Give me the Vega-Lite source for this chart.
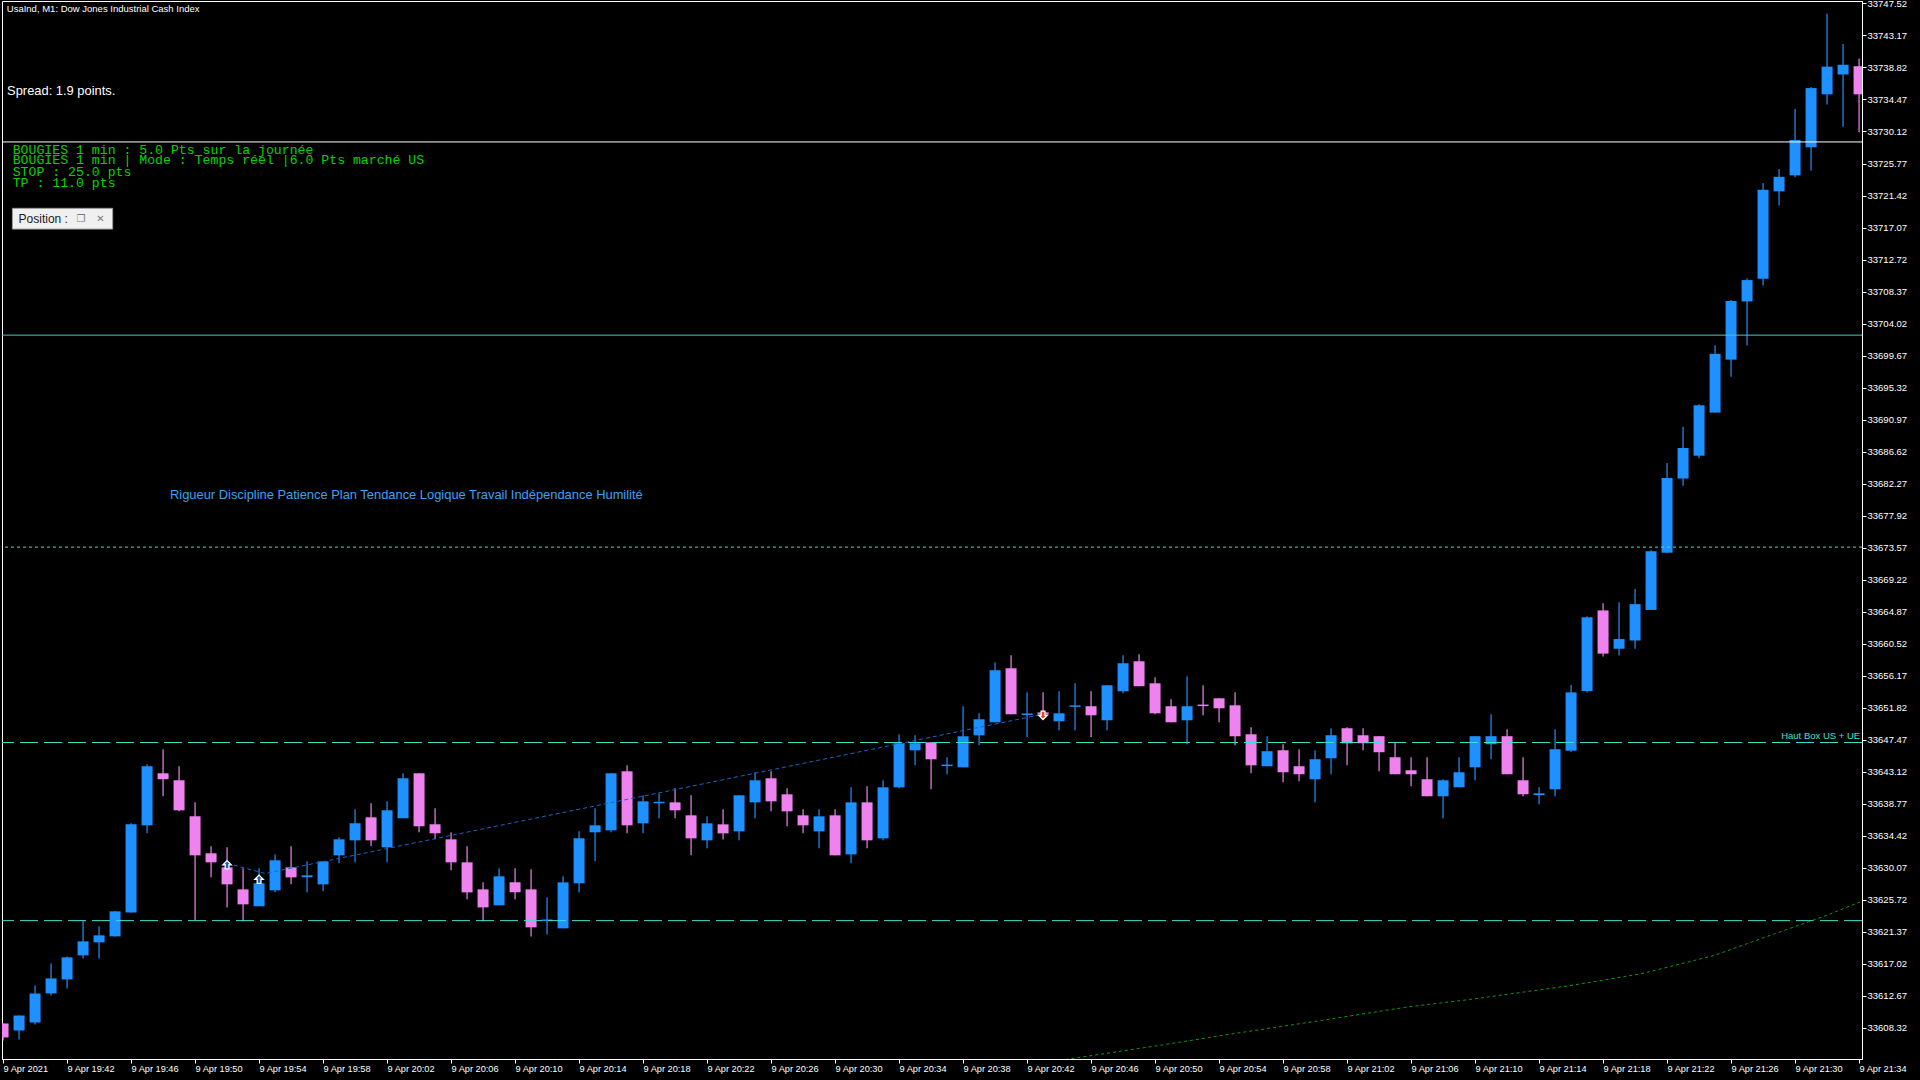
{
  "$schema": "https://vega.github.io/schema/vega-lite/v6.json",
  "description": "UsaInd M1 - Dow Jones Industrial Cash Index, 9 Apr 2021 19:38-21:34",
  "width": 1860,
  "height": 1058,
  "autosize": "none",
  "padding": {"left": 2, "top": 1, "right": 58, "bottom": 21},
  "background": "#000000",
  "datasets": {
    "candles": [
      {"t": "2021-04-09T19:38", "o": 33608.93, "h": 33608.93, "l": 33606.6, "c": 33607.03},
      {"t": "2021-04-09T19:39", "o": 33607.98, "h": 33610.02, "l": 33606.76, "c": 33610.02},
      {"t": "2021-04-09T19:40", "o": 33609.07, "h": 33614.1, "l": 33608.8, "c": 33613.01},
      {"t": "2021-04-09T19:41", "o": 33613.01, "h": 33617.09, "l": 33612.74, "c": 33615.05},
      {"t": "2021-04-09T19:42", "o": 33614.91, "h": 33618.04, "l": 33613.69, "c": 33617.91},
      {"t": "2021-04-09T19:43", "o": 33618.18, "h": 33622.94, "l": 33617.77, "c": 33620.08},
      {"t": "2021-04-09T19:44", "o": 33619.95, "h": 33622.12, "l": 33617.77, "c": 33620.9},
      {"t": "2021-04-09T19:45", "o": 33620.76, "h": 33624.16, "l": 33620.76, "c": 33624.16},
      {"t": "2021-04-09T19:46", "o": 33624.02, "h": 33636.13, "l": 33624.02, "c": 33635.99},
      {"t": "2021-04-09T19:47", "o": 33635.85, "h": 33644.15, "l": 33634.77, "c": 33643.88},
      {"t": "2021-04-09T19:48", "o": 33642.92, "h": 33646.19, "l": 33639.8, "c": 33642.11},
      {"t": "2021-04-09T19:49", "o": 33641.97, "h": 33643.88, "l": 33637.76, "c": 33637.89},
      {"t": "2021-04-09T19:50", "o": 33637.08, "h": 33638.98, "l": 33622.94, "c": 33631.77},
      {"t": "2021-04-09T19:51", "o": 33632.05, "h": 33633.0, "l": 33628.78, "c": 33630.82},
      {"t": "2021-04-09T19:52", "o": 33630.14, "h": 33632.86, "l": 33624.7, "c": 33627.83},
      {"t": "2021-04-09T19:53", "o": 33627.15, "h": 33630.01, "l": 33622.8, "c": 33625.11},
      {"t": "2021-04-09T19:54", "o": 33624.84, "h": 33630.01, "l": 33624.84, "c": 33627.97},
      {"t": "2021-04-09T19:55", "o": 33627.02, "h": 33631.91, "l": 33626.74, "c": 33631.1},
      {"t": "2021-04-09T19:56", "o": 33630.14, "h": 33633.0, "l": 33627.83, "c": 33628.78},
      {"t": "2021-04-09T19:57", "o": 33628.8, "h": 33630.96, "l": 33626.74, "c": 33629.05},
      {"t": "2021-04-09T19:58", "o": 33627.83, "h": 33630.96, "l": 33626.88, "c": 33630.96},
      {"t": "2021-04-09T19:59", "o": 33631.77, "h": 33634.22, "l": 33630.69, "c": 33633.95},
      {"t": "2021-04-09T20:00", "o": 33633.81, "h": 33638.03, "l": 33630.82, "c": 33636.13},
      {"t": "2021-04-09T20:01", "o": 33636.94, "h": 33638.84, "l": 33633.0, "c": 33633.81},
      {"t": "2021-04-09T20:02", "o": 33632.86, "h": 33639.12, "l": 33630.82, "c": 33637.89},
      {"t": "2021-04-09T20:03", "o": 33636.81, "h": 33642.92, "l": 33636.81, "c": 33642.24},
      {"t": "2021-04-09T20:04", "o": 33642.92, "h": 33642.92, "l": 33634.9, "c": 33635.72},
      {"t": "2021-04-09T20:05", "o": 33635.99, "h": 33638.16, "l": 33633.95, "c": 33634.77},
      {"t": "2021-04-09T20:06", "o": 33633.95, "h": 33634.9, "l": 33629.74, "c": 33630.82},
      {"t": "2021-04-09T20:07", "o": 33630.82, "h": 33633.0, "l": 33625.79, "c": 33626.74},
      {"t": "2021-04-09T20:08", "o": 33627.15, "h": 33628.1, "l": 33622.8, "c": 33624.7},
      {"t": "2021-04-09T20:09", "o": 33624.98, "h": 33630.01, "l": 33624.98, "c": 33628.92},
      {"t": "2021-04-09T20:10", "o": 33628.1, "h": 33630.01, "l": 33625.79, "c": 33626.74},
      {"t": "2021-04-09T20:11", "o": 33627.15, "h": 33629.87, "l": 33620.76, "c": 33621.99},
      {"t": "2021-04-09T20:12", "o": 33622.85, "h": 33626.06, "l": 33621.03, "c": 33623.05},
      {"t": "2021-04-09T20:13", "o": 33621.85, "h": 33628.92, "l": 33621.85, "c": 33628.1},
      {"t": "2021-04-09T20:14", "o": 33627.97, "h": 33635.04, "l": 33626.74, "c": 33634.09},
      {"t": "2021-04-09T20:15", "o": 33634.9, "h": 33638.16, "l": 33630.96, "c": 33635.85},
      {"t": "2021-04-09T20:16", "o": 33635.17, "h": 33642.92, "l": 33634.9, "c": 33642.92},
      {"t": "2021-04-09T20:17", "o": 33643.19, "h": 33644.0, "l": 33634.76, "c": 33635.85},
      {"t": "2021-04-09T20:18", "o": 33636.12, "h": 33639.93, "l": 33634.76, "c": 33639.11},
      {"t": "2021-04-09T20:19", "o": 33638.85, "h": 33640.2, "l": 33636.8, "c": 33639.05},
      {"t": "2021-04-09T20:20", "o": 33638.97, "h": 33640.88, "l": 33636.8, "c": 33637.89},
      {"t": "2021-04-09T20:21", "o": 33637.21, "h": 33639.93, "l": 33631.77, "c": 33634.08},
      {"t": "2021-04-09T20:22", "o": 33633.81, "h": 33637.07, "l": 33632.72, "c": 33636.12},
      {"t": "2021-04-09T20:23", "o": 33635.98, "h": 33638.02, "l": 33633.94, "c": 33634.76},
      {"t": "2021-04-09T20:24", "o": 33635.03, "h": 33639.93, "l": 33633.81, "c": 33639.93},
      {"t": "2021-04-09T20:25", "o": 33638.97, "h": 33643.05, "l": 33636.8, "c": 33641.97},
      {"t": "2021-04-09T20:26", "o": 33642.24, "h": 33643.19, "l": 33637.75, "c": 33639.11},
      {"t": "2021-04-09T20:27", "o": 33640.06, "h": 33640.88, "l": 33635.71, "c": 33637.75},
      {"t": "2021-04-09T20:28", "o": 33637.21, "h": 33638.02, "l": 33634.76, "c": 33635.85},
      {"t": "2021-04-09T20:29", "o": 33635.03, "h": 33638.02, "l": 33632.72, "c": 33637.07},
      {"t": "2021-04-09T20:30", "o": 33637.21, "h": 33638.02, "l": 33631.77, "c": 33631.77},
      {"t": "2021-04-09T20:31", "o": 33631.9, "h": 33641.01, "l": 33630.68, "c": 33638.97},
      {"t": "2021-04-09T20:32", "o": 33638.97, "h": 33641.15, "l": 33632.72, "c": 33633.81},
      {"t": "2021-04-09T20:33", "o": 33634.08, "h": 33641.97, "l": 33633.81, "c": 33641.01},
      {"t": "2021-04-09T20:34", "o": 33641.01, "h": 33648.22, "l": 33640.88, "c": 33647.0},
      {"t": "2021-04-09T20:35", "o": 33646.04, "h": 33648.08, "l": 33644.0, "c": 33647.0},
      {"t": "2021-04-09T20:36", "o": 33647.13, "h": 33647.13, "l": 33640.74, "c": 33644.82},
      {"t": "2021-04-09T20:37", "o": 33643.9, "h": 33645.09, "l": 33642.78, "c": 33644.1},
      {"t": "2021-04-09T20:38", "o": 33643.73, "h": 33652.03, "l": 33643.73, "c": 33647.95},
      {"t": "2021-04-09T20:39", "o": 33648.08, "h": 33651.07, "l": 33646.72, "c": 33650.26},
      {"t": "2021-04-09T20:40", "o": 33649.85, "h": 33658.01, "l": 33649.85, "c": 33656.92},
      {"t": "2021-04-09T20:41", "o": 33657.19, "h": 33658.96, "l": 33650.94, "c": 33650.94},
      {"t": "2021-04-09T20:42", "o": 33650.85, "h": 33653.93, "l": 33647.81, "c": 33651.05},
      {"t": "2021-04-09T20:43", "o": 33651.2, "h": 33653.93, "l": 33650.2, "c": 33650.9},
      {"t": "2021-04-09T20:44", "o": 33649.99, "h": 33654.07, "l": 33648.76, "c": 33651.07},
      {"t": "2021-04-09T20:45", "o": 33651.95, "h": 33655.15, "l": 33648.76, "c": 33652.15},
      {"t": "2021-04-09T20:46", "o": 33652.03, "h": 33654.07, "l": 33647.81, "c": 33650.8},
      {"t": "2021-04-09T20:47", "o": 33650.12, "h": 33654.88, "l": 33648.76, "c": 33654.88},
      {"t": "2021-04-09T20:48", "o": 33654.07, "h": 33658.96, "l": 33653.79, "c": 33657.87},
      {"t": "2021-04-09T20:49", "o": 33658.14, "h": 33659.1, "l": 33654.75, "c": 33654.75},
      {"t": "2021-04-09T20:50", "o": 33655.15, "h": 33655.97, "l": 33650.94, "c": 33651.07},
      {"t": "2021-04-09T20:51", "o": 33652.03, "h": 33652.98, "l": 33649.85, "c": 33649.85},
      {"t": "2021-04-09T20:52", "o": 33650.12, "h": 33656.11, "l": 33646.86, "c": 33652.03},
      {"t": "2021-04-09T20:53", "o": 33652.25, "h": 33654.88, "l": 33650.8, "c": 33652.05},
      {"t": "2021-04-09T20:54", "o": 33653.11, "h": 33653.11, "l": 33649.85, "c": 33651.75},
      {"t": "2021-04-09T20:55", "o": 33652.16, "h": 33653.93, "l": 33646.72, "c": 33647.95},
      {"t": "2021-04-09T20:56", "o": 33648.22, "h": 33649.17, "l": 33642.92, "c": 33644.0},
      {"t": "2021-04-09T20:57", "o": 33643.88, "h": 33647.96, "l": 33643.88, "c": 33645.92},
      {"t": "2021-04-09T20:58", "o": 33646.05, "h": 33646.87, "l": 33641.7, "c": 33643.06},
      {"t": "2021-04-09T20:59", "o": 33643.88, "h": 33646.19, "l": 33641.84, "c": 33642.79},
      {"t": "2021-04-09T21:00", "o": 33642.11, "h": 33646.05, "l": 33638.98, "c": 33644.83},
      {"t": "2021-04-09T21:01", "o": 33644.96, "h": 33649.04, "l": 33642.79, "c": 33648.09},
      {"t": "2021-04-09T21:02", "o": 33649.04, "h": 33649.18, "l": 33644.01, "c": 33647.0},
      {"t": "2021-04-09T21:03", "o": 33648.09, "h": 33649.04, "l": 33646.05, "c": 33647.0},
      {"t": "2021-04-09T21:04", "o": 33647.96, "h": 33647.96, "l": 33643.2, "c": 33645.78},
      {"t": "2021-04-09T21:05", "o": 33645.1, "h": 33647.14, "l": 33642.79, "c": 33642.79},
      {"t": "2021-04-09T21:06", "o": 33643.33, "h": 33645.1, "l": 33641.16, "c": 33642.79},
      {"t": "2021-04-09T21:07", "o": 33642.11, "h": 33645.1, "l": 33639.8, "c": 33639.8},
      {"t": "2021-04-09T21:08", "o": 33639.8, "h": 33642.11, "l": 33636.81, "c": 33641.97},
      {"t": "2021-04-09T21:09", "o": 33641.02, "h": 33645.1, "l": 33641.02, "c": 33643.06},
      {"t": "2021-04-09T21:10", "o": 33643.74, "h": 33647.96, "l": 33641.97, "c": 33647.96},
      {"t": "2021-04-09T21:11", "o": 33646.87, "h": 33650.95, "l": 33644.83, "c": 33647.96},
      {"t": "2021-04-09T21:12", "o": 33647.96, "h": 33648.91, "l": 33642.79, "c": 33642.79},
      {"t": "2021-04-09T21:13", "o": 33641.97, "h": 33645.1, "l": 33639.8, "c": 33640.07},
      {"t": "2021-04-09T21:14", "o": 33639.95, "h": 33641.02, "l": 33638.71, "c": 33640.2},
      {"t": "2021-04-09T21:15", "o": 33640.75, "h": 33648.91, "l": 33639.8, "c": 33646.19},
      {"t": "2021-04-09T21:16", "o": 33645.99, "h": 33654.9, "l": 33645.8, "c": 33653.91},
      {"t": "2021-04-09T21:17", "o": 33654.1, "h": 33664.25, "l": 33653.91, "c": 33664.12},
      {"t": "2021-04-09T21:18", "o": 33665.05, "h": 33666.03, "l": 33658.78, "c": 33659.18},
      {"t": "2021-04-09T21:19", "o": 33659.84, "h": 33666.17, "l": 33658.91, "c": 33661.16},
      {"t": "2021-04-09T21:20", "o": 33660.96, "h": 33667.95, "l": 33659.84, "c": 33665.9},
      {"t": "2021-04-09T21:21", "o": 33665.11, "h": 33673.22, "l": 33665.11, "c": 33673.09},
      {"t": "2021-04-09T21:22", "o": 33672.89, "h": 33685.08, "l": 33672.89, "c": 33683.04},
      {"t": "2021-04-09T21:23", "o": 33682.97, "h": 33690.02, "l": 33681.98, "c": 33687.12},
      {"t": "2021-04-09T21:24", "o": 33686.07, "h": 33693.05, "l": 33685.74, "c": 33692.92},
      {"t": "2021-04-09T21:25", "o": 33691.93, "h": 33701.09, "l": 33691.93, "c": 33699.91},
      {"t": "2021-04-09T21:26", "o": 33699.12, "h": 33707.22, "l": 33696.81, "c": 33707.09},
      {"t": "2021-04-09T21:27", "o": 33707.03, "h": 33710.19, "l": 33701.03, "c": 33709.93},
      {"t": "2021-04-09T21:28", "o": 33710.12, "h": 33723.11, "l": 33709.2, "c": 33722.19},
      {"t": "2021-04-09T21:29", "o": 33721.99, "h": 33725.02, "l": 33720.08, "c": 33723.96},
      {"t": "2021-04-09T21:30", "o": 33724.16, "h": 33733.19, "l": 33723.9, "c": 33728.97},
      {"t": "2021-04-09T21:31", "o": 33727.98, "h": 33736.16, "l": 33724.82, "c": 33736.02},
      {"t": "2021-04-09T21:32", "o": 33735.17, "h": 33746.11, "l": 33733.78, "c": 33738.93},
      {"t": "2021-04-09T21:33", "o": 33737.87, "h": 33742.02, "l": 33730.75, "c": 33739.19},
      {"t": "2021-04-09T21:34", "o": 33738.99, "h": 33740.05, "l": 33730.03, "c": 33735.17}
    ],
    "ma": [
      {"t": "2021-04-09T20:44:24", "p": 33604.03},
      {"t": "2021-04-09T20:50:31", "p": 33606.03},
      {"t": "2021-04-09T20:54:21", "p": 33607.36},
      {"t": "2021-04-09T21:00:28", "p": 33609.36},
      {"t": "2021-04-09T21:05:50", "p": 33611.19},
      {"t": "2021-04-09T21:09:39", "p": 33612.18},
      {"t": "2021-04-09T21:15:47", "p": 33614.02},
      {"t": "2021-04-09T21:20:22", "p": 33615.67},
      {"t": "2021-04-09T21:24:58", "p": 33618.18},
      {"t": "2021-04-09T21:28:47", "p": 33621.16},
      {"t": "2021-04-09T21:31:50", "p": 33623.5},
      {"t": "2021-04-09T21:34:08", "p": 33625.5}
    ],
    "trade": [
      {"t": "2021-04-09T19:52:00", "p": 33630.7},
      {"t": "2021-04-09T19:54:22", "p": 33629.3},
      {"t": "2021-04-09T20:43:00", "p": 33650.94}
    ]
  },
  "config": {
    "view": {"stroke": "#FFFFFF", "strokeWidth": 1},
    "axis": {"grid": false, "title": null, "labelOverlap": false, "labelFlush": false, "labelBound": false},
    "scale": {"continuousPadding": 0}
  },
  "layer": [
    {
      "data": {"name": "candles"},
      "mark": {"type": "rule", "strokeWidth": 1.2, "clip": true},
      "encoding": {
        "x": {
          "field": "t", "type": "temporal", "title": null,
          "scale": {"padding": 0, "nice": false, "domain": [
            {"year": 2021, "month": 4, "date": 9, "hours": 19, "minutes": 37, "seconds": 56},
            {"year": 2021, "month": 4, "date": 9, "hours": 21, "minutes": 34, "seconds": 11}
          ]},
          "axis": {
            "orient": "bottom",
            "tickCount": 60,
            "values": [
              {"year": 2021, "month": 4, "date": 9, "hours": 19, "minutes": 38},
              {"year": 2021, "month": 4, "date": 9, "hours": 19, "minutes": 42},
              {"year": 2021, "month": 4, "date": 9, "hours": 19, "minutes": 46},
              {"year": 2021, "month": 4, "date": 9, "hours": 19, "minutes": 50},
              {"year": 2021, "month": 4, "date": 9, "hours": 19, "minutes": 54},
              {"year": 2021, "month": 4, "date": 9, "hours": 19, "minutes": 58},
              {"year": 2021, "month": 4, "date": 9, "hours": 20, "minutes": 2},
              {"year": 2021, "month": 4, "date": 9, "hours": 20, "minutes": 6},
              {"year": 2021, "month": 4, "date": 9, "hours": 20, "minutes": 10},
              {"year": 2021, "month": 4, "date": 9, "hours": 20, "minutes": 14},
              {"year": 2021, "month": 4, "date": 9, "hours": 20, "minutes": 18},
              {"year": 2021, "month": 4, "date": 9, "hours": 20, "minutes": 22},
              {"year": 2021, "month": 4, "date": 9, "hours": 20, "minutes": 26},
              {"year": 2021, "month": 4, "date": 9, "hours": 20, "minutes": 30},
              {"year": 2021, "month": 4, "date": 9, "hours": 20, "minutes": 34},
              {"year": 2021, "month": 4, "date": 9, "hours": 20, "minutes": 38},
              {"year": 2021, "month": 4, "date": 9, "hours": 20, "minutes": 42},
              {"year": 2021, "month": 4, "date": 9, "hours": 20, "minutes": 46},
              {"year": 2021, "month": 4, "date": 9, "hours": 20, "minutes": 50},
              {"year": 2021, "month": 4, "date": 9, "hours": 20, "minutes": 54},
              {"year": 2021, "month": 4, "date": 9, "hours": 20, "minutes": 58},
              {"year": 2021, "month": 4, "date": 9, "hours": 21, "minutes": 2},
              {"year": 2021, "month": 4, "date": 9, "hours": 21, "minutes": 6},
              {"year": 2021, "month": 4, "date": 9, "hours": 21, "minutes": 10},
              {"year": 2021, "month": 4, "date": 9, "hours": 21, "minutes": 14},
              {"year": 2021, "month": 4, "date": 9, "hours": 21, "minutes": 18},
              {"year": 2021, "month": 4, "date": 9, "hours": 21, "minutes": 22},
              {"year": 2021, "month": 4, "date": 9, "hours": 21, "minutes": 26},
              {"year": 2021, "month": 4, "date": 9, "hours": 21, "minutes": 30},
              {"year": 2021, "month": 4, "date": 9, "hours": 21, "minutes": 34}
            ],
            "labelExpr": "datum.index == 0 ? timeFormat(datum.value, '%-d %b %Y') : timeFormat(datum.value, '%-d %b %H:%M')",
            "domainColor": "#FFFFFF",
            "tickColor": "#FFFFFF",
            "tickSize": 4,
            "labelColor": "#FFFFFF",
            "labelFont": "Liberation Sans",
            "labelFontSize": 9.2,
            "labelAlign": "left",
            "labelBaseline": "top",
            "labelPadding": 1,
            "labelOverlap": false,
            "labelFlush": false,
            "labelBound": false
          }
        },
        "y": {
          "field": "l", "type": "quantitative", "title": null,
          "scale": {"domain": [33604.1, 33747.85], "nice": false, "zero": false, "padding": 0},
          "axis": {
            "orient": "right",
            "tickCount": 60,
            "values": [33608.32, 33612.67, 33617.02, 33621.37, 33625.72, 33630.07, 33634.42, 33638.77, 33643.12, 33647.47, 33651.82, 33656.17, 33660.52, 33664.87, 33669.22, 33673.57, 33677.92, 33682.27, 33686.62, 33690.97, 33695.32, 33699.67, 33704.02, 33708.37, 33712.72, 33717.07, 33721.42, 33725.77, 33730.12, 33734.47, 33738.82, 33743.17, 33747.52],
            "format": ".2f",
            "domainColor": "#FFFFFF",
            "tickColor": "#FFFFFF",
            "tickSize": 4,
            "labelColor": "#FFFFFF",
            "labelFont": "Liberation Sans",
            "labelFontSize": 9.5,
            "labelPadding": 1,
            "labelOverlap": false,
            "labelFlush": false,
            "labelBound": false
          }
        },
        "y2": {"field": "h"},
        "color": {"condition": {"test": "datum.c >= datum.o", "value": "#1E90FF"}, "value": "#EE82EE"}
      }
    },
    {
      "data": {"name": "candles"},
      "mark": {"type": "bar", "width": 11, "clip": true},
      "encoding": {
        "x": {"field": "t", "type": "temporal", "title": null},
        "y": {"field": "o", "type": "quantitative", "title": null},
        "y2": {"field": "c"},
        "color": {"condition": {"test": "datum.c >= datum.o", "value": "#1E90FF"}, "value": "#EE82EE"}
      }
    },
    {
      "data": {"values": [{"p": 33728.7}]},
      "mark": {"type": "rule", "color": "#FFFFFF", "strokeWidth": 1},
      "encoding": {"y": {"field": "p", "type": "quantitative", "title": null}}
    },
    {
      "data": {"values": [{"p": 33702.45}]},
      "mark": {"type": "rule", "color": "#48C9C0", "strokeWidth": 1},
      "encoding": {"y": {"field": "p", "type": "quantitative", "title": null}}
    },
    {
      "data": {"values": [{"p": 33673.65}]},
      "mark": {"type": "rule", "color": "#40E0D0", "strokeWidth": 1, "strokeDash": [3, 3]},
      "encoding": {"y": {"field": "p", "type": "quantitative", "title": null}}
    },
    {
      "data": {"values": [{"p": 33647.1}, {"p": 33622.9}]},
      "mark": {"type": "rule", "color": "#40E0D0", "strokeWidth": 1, "strokeDash": [18, 6]},
      "encoding": {"y": {"field": "p", "type": "quantitative", "title": null}}
    },
    {
      "data": {"name": "ma"},
      "mark": {"type": "line", "color": "#109A10", "strokeWidth": 1, "strokeDash": [3, 3], "clip": true},
      "encoding": {
        "x": {"field": "t", "type": "temporal", "title": null},
        "y": {"field": "p", "type": "quantitative", "title": null}
      }
    },
    {
      "data": {"name": "trade"},
      "mark": {"type": "line", "color": "#1C64C8", "strokeWidth": 1, "strokeDash": [4, 3]},
      "encoding": {
        "x": {"field": "t", "type": "temporal", "title": null},
        "y": {"field": "p", "type": "quantitative", "title": null}
      }
    },
    {
      "data": {"values": [{"t": "2021-04-09T19:52:00", "p": 33630.49}, {"t": "2021-04-09T19:54:00", "p": 33628.52}]},
      "mark": {"type": "point", "shape": "M0,-1L1,0L0.45,0L0.45,1L-0.45,1L-0.45,0L-1,0Z", "size": 70, "filled": true, "fill": "#1566C0", "stroke": "#FFFFFF", "strokeWidth": 1.3, "opacity": 1},
      "encoding": {
        "x": {"field": "t", "type": "temporal", "title": null},
        "y": {"field": "p", "type": "quantitative", "title": null}
      }
    },
    {
      "data": {"values": [{"t": "2021-04-09T20:43:00", "p": 33650.8}]},
      "mark": {"type": "point", "shape": "M0,1L1,0L0.45,0L0.45,-1L-0.45,-1L-0.45,0L-1,0Z", "size": 70, "filled": true, "fill": "#E8401C", "stroke": "#FFFFFF", "strokeWidth": 1.3, "opacity": 1},
      "encoding": {
        "x": {"field": "t", "type": "temporal", "title": null},
        "y": {"field": "p", "type": "quantitative", "title": null}
      }
    },
    {
      "data": {"values": [{"t": "2021-04-09T21:34:04", "p": 33647.1, "label": "Haut Box US + UE"}]},
      "mark": {"type": "text", "align": "right", "baseline": "bottom", "dy": -2, "font": "Liberation Sans", "fontSize": 9.5, "color": "#40E0D0"},
      "encoding": {
        "x": {"field": "t", "type": "temporal", "title": null},
        "y": {"field": "p", "type": "quantitative", "title": null},
        "text": {"field": "label"}
      }
    },
    {
      "data": {"values": [{"t": "2021-04-09T19:48:26", "p": 33680.71, "label": "Rigueur Discipline Patience Plan Tendance Logique Travail Indépendance Humilité"}]},
      "mark": {"type": "text", "align": "left", "baseline": "middle", "font": "Liberation Sans", "fontSize": 12.9, "color": "#3EA2F2"},
      "encoding": {
        "x": {"field": "t", "type": "temporal", "title": null},
        "y": {"field": "p", "type": "quantitative", "title": null},
        "text": {"field": "label"}
      }
    },
    {
      "data": {"values": [{"t": "2021-04-09T19:38:14", "p": 33746.72, "label": "UsaInd, M1:  Dow Jones Industrial Cash Index"}]},
      "mark": {"type": "text", "align": "left", "baseline": "middle", "font": "Liberation Sans", "fontSize": 9.5, "color": "#FFFFFF"},
      "encoding": {
        "x": {"field": "t", "type": "temporal", "title": null},
        "y": {"field": "p", "type": "quantitative", "title": null},
        "text": {"field": "label"}
      }
    },
    {
      "data": {"values": [{"t": "2021-04-09T19:38:15", "p": 33735.61, "label": "Spread: 1.9 points."}]},
      "mark": {"type": "text", "align": "left", "baseline": "middle", "font": "Liberation Sans", "fontSize": 12.9, "color": "#FFFFFF"},
      "encoding": {
        "x": {"field": "t", "type": "temporal", "title": null},
        "y": {"field": "p", "type": "quantitative", "title": null},
        "text": {"field": "label"}
      }
    },
    {
      "data": {"values": [
        {"t": "2021-04-09T19:38:36", "p": 33727.59, "label": "BOUGIES 1 min : 5.0 Pts sur la journée"},
        {"t": "2021-04-09T19:38:36", "p": 33726.24, "label": "BOUGIES 1 min | Mode : Temps réel |6.0 Pts marché US"},
        {"t": "2021-04-09T19:38:36", "p": 33724.56, "label": "STOP : 25.0 pts"},
        {"t": "2021-04-09T19:38:36", "p": 33723.07, "label": "TP : 11.0 pts"}
      ]},
      "mark": {"type": "text", "align": "left", "baseline": "middle", "font": "Liberation Mono", "fontSize": 13.2, "color": "#00D400"},
      "encoding": {
        "x": {"field": "t", "type": "temporal", "title": null},
        "y": {"field": "p", "type": "quantitative", "title": null},
        "text": {"field": "label"}
      }
    },
    {
      "data": {"values": [{"t": "2021-04-09T19:38:35", "t2": "2021-04-09T19:44:51", "p": 33719.68, "p2": 33716.86}]},
      "mark": {"type": "rect", "fill": "#F0F0F0", "stroke": "#9A9A9A", "strokeWidth": 1},
      "encoding": {
        "x": {"field": "t", "type": "temporal", "title": null},
        "x2": {"field": "t2"},
        "y": {"field": "p", "type": "quantitative", "title": null},
        "y2": {"field": "p2"}
      }
    },
    {
      "data": {"values": [{"t": "2021-04-09T19:38:58", "p": 33718.27, "label": "Position :"}]},
      "mark": {"type": "text", "align": "left", "baseline": "middle", "font": "Liberation Sans", "fontSize": 12, "color": "#1A1A1A"},
      "encoding": {
        "x": {"field": "t", "type": "temporal", "title": null},
        "y": {"field": "p", "type": "quantitative", "title": null},
        "text": {"field": "label"}
      }
    },
    {
      "data": {"values": [{"t": "2021-04-09T19:42:52", "p": 33718.27, "label": "❐"}, {"t": "2021-04-09T19:44:05", "p": 33718.27, "label": "✕"}]},
      "mark": {"type": "text", "align": "center", "baseline": "middle", "font": "DejaVu Sans", "fontSize": 10, "color": "#7A7A7A"},
      "encoding": {
        "x": {"field": "t", "type": "temporal", "title": null},
        "y": {"field": "p", "type": "quantitative", "title": null},
        "text": {"field": "label"}
      }
    }
  ]
}
